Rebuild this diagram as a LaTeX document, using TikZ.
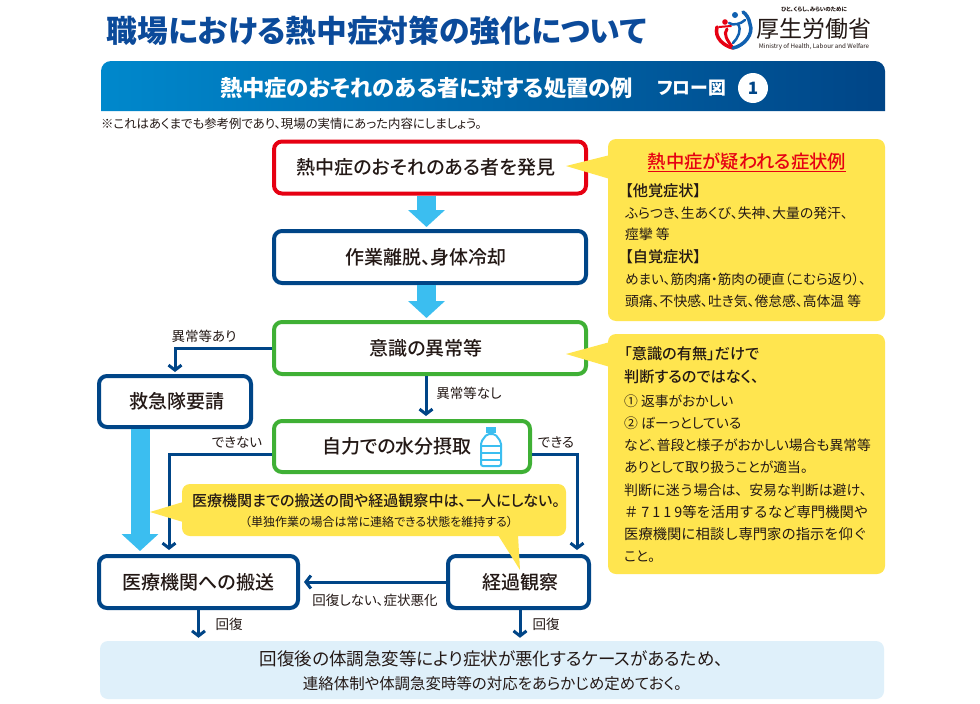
\documentclass[tikz,border=0pt]{standalone}
\usepackage{fontspec}
\setmainfont{Noto Sans CJK JP}[RawFeature=+palt]
\newfontfamily\fullset{Noto Sans CJK JP}
\newfontfamily\medset{Noto Sans CJK JP Medium}[RawFeature=+palt]
\usepackage{tikz}
\usetikzlibrary{arrows.meta}
\definecolor{navyline}{HTML}{004587}
\definecolor{titleblue}{HTML}{0B4A9A}
\definecolor{redline}{HTML}{E60012}
\definecolor{greenline}{HTML}{3FB035}
\definecolor{skyarrow}{HTML}{3BBEF0}
\definecolor{noteyellow}{HTML}{FFE54F}
\definecolor{paleblue}{HTML}{DFF0FA}
\definecolor{inktext}{HTML}{231815}
\definecolor{barstart}{HTML}{0088CC}
\definecolor{logoblue}{HTML}{1060B0}
\tikzset{
  stepbox/.style={draw=navyline,line width=4pt,rounded corners=8pt,fill=white,inner sep=0pt,
    font=\medset\fontsize{19}{22}\selectfont,text=inktext},
  flow/.style={draw=navyline,line width=3pt,-{Straight Barb[length=5pt,width=13pt]}},
  bigflow/.style={draw=skyarrow,line width=19pt,-{Triangle[length=17pt,width=36pt]}},
  flowlabel/.style={inner sep=0pt,font=\fontsize{13.5}{16}\selectfont,text=inktext},
  notebox/.style={fill=noteyellow,rounded corners=8pt,inner sep=0pt},
  noteline/.style={inner sep=0pt,anchor=west,font=\fontsize{13.8}{16}\selectfont,text=inktext},
  notehead/.style={noteline,font=\medset\fontsize{15.2}{18}\selectfont},
  notefull/.style={noteline,font=\fullset\fontsize{14.3}{16}\selectfont},
}
\begin{document}
\begin{tikzpicture}[x=1pt,y=-1pt]
    \useasboundingbox (0,0) rectangle (980,704);
    \fill[white] (0,0) rectangle (980,704);

    % Title and logo
    \node[inner sep=0pt,text=titleblue,font=\fontsize{30.75}{33}\selectfont\bfseries] (title) at (376.5,31) {職場における熱中症対策の強化について};
    \draw[redline,line width=3.5pt,line cap=round] (717,27) .. controls (714,38) and (724,46) .. (733,48);
    \draw[redline,line width=3pt,line cap=round] (733,48) .. controls (727,40) and (723,34) .. (727,29);
    \fill[redline] (725,22) circle (2.8);
    \draw[redline,line width=2pt,line cap=round] (719,27) -- (731,26);
    \fill[logoblue] (735,15) circle (3);
    \draw[logoblue,line width=3.5pt,line cap=round] (733,48) .. controls (744,46) and (754,34) .. (750,24) .. controls (749,18) and (746,14) .. (743,12);
    \draw[logoblue,line width=2.5pt,line cap=round] (729,23) .. controls (733,26) and (741,24) .. (745,20);
    \draw[logoblue,line width=2.5pt,line cap=round] (738,24) .. controls (742,30) and (738,38) .. (733,43);
    \node[inner sep=0pt,text=inktext,font=\fontsize{5.5}{6}\selectfont\bfseries] (logotop) at (814,9.5) {ひと、くらし、みらいのために};
    \node[inner sep=0pt,text=inktext,font=\fontsize{23}{25}\selectfont] (logoname) at (814,29) {厚生労働省};
    \node[inner sep=0pt,text=inktext,font=\fontsize{6.2}{7}\selectfont] (logoen) at (814,46.5) {Ministry of Health, Labour and Welfare};

    % Header bar
    \shade[left color=barstart,right color=navyline] (101,111) {[rounded corners=10pt] -- (101,61) -- (885,61)} -- (885,111) -- cycle;
    \node[inner sep=0pt,text=white,font=\fontsize{22.3}{25}\selectfont\bfseries] (header) at (426.5,88) {熱中症のおそれのある者に対する処置の例};
    \node[inner sep=0pt,text=white,font=\fontsize{17.8}{20}\selectfont\bfseries] (headerflow) at (691.5,88) {フロー図};
    \node[circle,fill=white,minimum size=30pt,inner sep=0pt,text=navyline,font=\fontsize{17}{18}\selectfont\bfseries] (headernum) at (753,88) {1};
    \node[inner sep=0pt,anchor=west,text=inktext,font=\fontsize{12.4}{14}\selectfont] (remark) at (101,124) {※これはあくまでも参考例であり、現場の実情にあった内容にしましょう。};

    % Flow boxes
    \node[stepbox,draw=redline,minimum width=312pt,minimum height=52pt] (detect) at (430,167.5) {\hspace{-8pt}熱中症のおそれのある者を発見};
    \node[stepbox,minimum width=312pt,minimum height=52pt] (cool) at (430,257) {\hspace{-8pt}作業離脱、身体冷却};
    \node[stepbox,draw=greenline,minimum width=312pt,minimum height=52pt] (conscious) at (430,348) {\hspace{-8pt}意識の異常等};
    \node[stepbox,minimum width=152pt,minimum height=51pt] (rescue) at (175,401.5) {\hspace{3pt}救急隊要請};
    \node[stepbox,draw=greenline,minimum width=256pt,minimum height=51pt] (water) at (402,446.5) {\hspace{-10pt}自力での水分摂取};
    \node[stepbox,minimum width=199pt,minimum height=52pt] (transport) at (198.5,582) {医療機関への搬送};
    \node[stepbox,minimum width=141pt,minimum height=52pt] (watch) at (518.5,582) {\hspace{4pt}経過観察};
    \node[fill=paleblue,rounded corners=8pt,minimum width=784pt,minimum height=58pt,inner sep=0pt] (closing) at (492,670) {};

    % Bottle
    \draw[skyarrow,line width=2pt,rounded corners=2pt,fill=white] (487,434) -- (481,442) -- (481,466) -- (501,466) -- (501,442) -- (495,434) -- cycle;
    \fill[skyarrow] (486,427) rectangle (496,433);
    \foreach \y in {446,453,460}
        \draw[skyarrow,line width=2pt] (481,\y) -- (501,\y);

    % Draw arrows
    \draw[bigflow,shorten >=2pt] ([xshift=-3.5pt]detect.south) -- ([xshift=-3.5pt]cool.north);
    \draw[bigflow,shorten >=2pt] ([xshift=-3.5pt]cool.south) -- ([xshift=-3.5pt]conscious.north);
    \draw[bigflow,shorten >=3pt] ([xshift=-35pt]rescue.south) -- ([xshift=-58.5pt]transport.north);
    \draw[flow,shorten >=2pt] (conscious.west) -| (rescue.north);
    \draw[flow,shorten >=3pt] ([xshift=-4pt]conscious.south) -- ([xshift=-4pt]conscious.south |- water.north);
    \draw[flow,shorten >=4pt] ([yshift=-7.5pt]water.west) -| ([xshift=-29.5pt]transport.north);
    \draw[flow,shorten >=4pt] ([yshift=-7.5pt]water.east) -| ([xshift=58.5pt]watch.north);
    \draw[flow,shorten >=4pt] (watch.west) -- (transport.east);
    \draw[flow,shorten >=3pt] (transport.south) -- (transport.south |- closing.north);
    \draw[flow,shorten >=3pt] ([xshift=1.5pt]watch.south) -- ([xshift=1.5pt]watch.south |- closing.north);

    % Callouts
    \node[notebox,minimum width=277pt,minimum height=182pt] (symptoms) at (746.5,230) {};
    \fill[noteyellow] (610,155) -- (566,166) -- (610,179) -- cycle;
    \node[notebox,minimum width=277pt,minimum height=240pt] (advice) at (746.5,454) {};
    \fill[noteyellow] (610,342) -- (566,354) -- (610,367) -- cycle;
    \node[notebox,minimum width=384pt,minimum height=52pt] (stayby) at (374,510) {};
    \fill[noteyellow] (183,502) -- (150,512) -- (183,522) -- cycle;
    \fill[noteyellow] (498,535) -- (520,570) -- (518,535) -- cycle;

    % Labels
    \node[flowlabel] (labelabn) at (204,336) {異常等あり};
    \node[flowlabel] (labelnorm) at (469,393) {異常等なし};
    \node[flowlabel] (labelcannot) at (237,442) {できない};
    \node[flowlabel] (labelcan) at (556,442) {できる};
    \node[flowlabel] (labelworse) at (375,600) {回復しない、症状悪化};
    \node[flowlabel] (labelrecA) at (229,624) {回復};
    \node[flowlabel] (labelrecB) at (546,624) {回復};

    % Callout text
    \node[inner sep=0pt,text=redline,font=\medset\fontsize{18.3}{20}\selectfont] (symphead) at (747,162) {\underline{熱中症が疑われる症状例}};
    \node[notehead] (symA) at (625,191) {【他覚症状】};
    \node[noteline] (symB) at (625,213) {ふらつき、生あくび、失神、大量の発汗、};
    \node[noteline] (symC) at (625,234) {痙攣 等};
    \node[notehead] (symD) at (625,257) {【自覚症状】};
    \node[noteline,font=\fontsize{13.5}{16}\selectfont] (symE) at (625,279) {めまい、筋肉痛・筋肉の硬直（こむら返り）、};
    \node[noteline] (symF) at (625,301) {頭痛、不快感、吐き気、倦怠感、高体温 等};

    \node[notehead] (advA) at (624,354) {「意識の有無」だけで};
    \node[notehead] (advB) at (624,377) {判断するのではなく、};
    \node[noteline] (advC) at (624,401) {① 返事がおかしい};
    \node[noteline] (advD) at (624,423) {② ぼーっとしている};
    \node[noteline] (advE) at (624,445) {など、普段と様子がおかしい場合も異常等};
    \node[noteline] (advF) at (624,467) {ありとして取り扱うことが適当。};
    \node[notefull,font=\fullset\fontsize{13.9}{16}\selectfont] (advG) at (624,490) {判断に迷う場合は、安易な判断は避け、};
    \node[notefull] (advH) at (624,512) {＃\kern3pt 7\kern3pt 1\kern3pt 1\kern3pt 9等を活用するなど専門機関や};
    \node[notefull] (advI) at (624,534) {医療機関に相談し専門家の指示を仰ぐ};
    \node[noteline] (advJ) at (624,557) {こと。};

    \node[inner sep=0pt,text=inktext,font=\medset\fontsize{15.05}{18}\selectfont] (stayA) at (376,501) {医療機関までの搬送の間や経過観察中は、一人にしない。};
    \node[inner sep=0pt,text=inktext,font=\fontsize{12}{14}\selectfont] (stayB) at (379,522) {（単独作業の場合は常に連絡できる状態を維持する）};

    \node[inner sep=0pt,text=inktext,font=\fontsize{17.5}{20}\selectfont] (closeA) at (491.5,659) {回復後の体調急変等により症状が悪化するケースがあるため、};
    \node[inner sep=0pt,text=inktext,font=\fontsize{15.45}{18}\selectfont] (closeB) at (492.5,684) {連絡体制や体調急変時等の対応をあらかじめ定めておく。};
\end{tikzpicture}
\end{document}
